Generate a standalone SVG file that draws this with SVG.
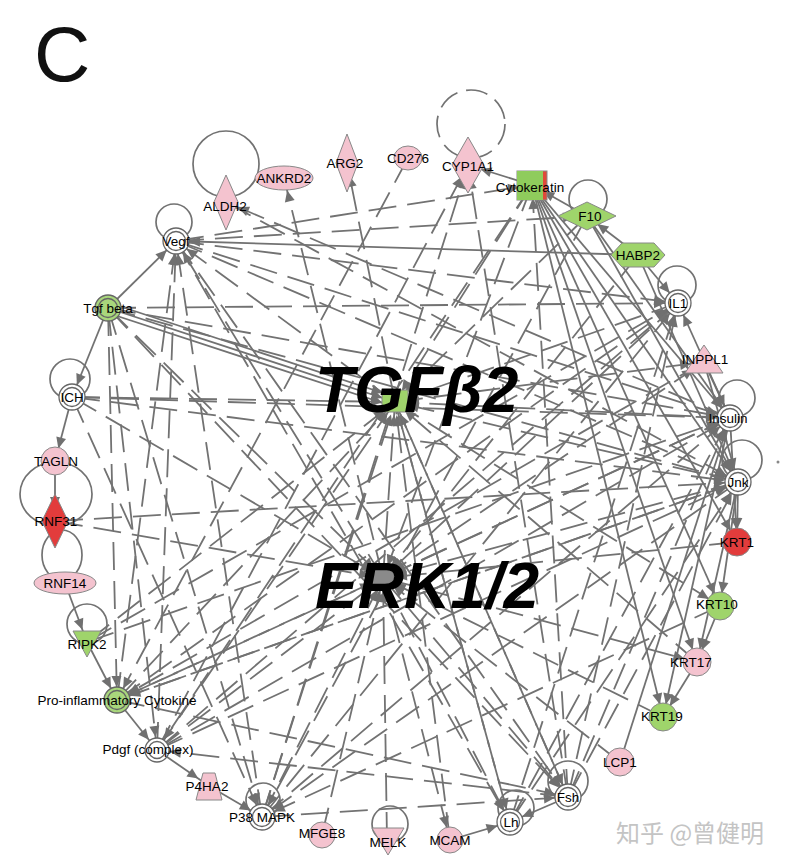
<svg xmlns="http://www.w3.org/2000/svg" width="788" height="868" viewBox="0 0 788 868">
<defs>
<marker id="ah" markerUnits="userSpaceOnUse" markerWidth="12" markerHeight="10" viewBox="0 0 12 10" refX="24" refY="5" orient="auto" overflow="visible">
<path d="M0,0 L11,5 L0,10 z" fill="#707070"/>
</marker>
<style>
.s{stroke:#727272;stroke-width:1.8;fill:none;marker-end:url(#ah)}
.d{stroke:#727272;stroke-width:1.8;fill:none;stroke-dasharray:28 11;marker-end:url(#ah)}
.lp{stroke:#727272;stroke-width:1.7;fill:none}
.lpd{stroke:#727272;stroke-width:1.7;fill:none;stroke-dasharray:22 9}
.o{stroke:#666;stroke-width:1.3;fill:#fff}
.og{stroke:#666;stroke-width:1.3;fill:#a9d77c}
.pk{fill:#f4c3cf;stroke:#888;stroke-width:1}
.gr{fill:#9fd46b;stroke:#888;stroke-width:1}
.rd{fill:#e23c3c;stroke:#888;stroke-width:1}
.t{font-family:"Liberation Sans",Arial,sans-serif;font-size:13.5px;fill:#000;text-anchor:middle;dominant-baseline:central}
.big{font-family:"Liberation Sans",Arial,sans-serif;font-size:64px;font-weight:bold;font-style:italic;fill:#000}
</style>
</defs>
<rect width="788" height="868" fill="#fff"/>
<text x="34" y="81" font-family="Liberation Sans,Arial,sans-serif" font-size="78" fill="#111">C</text>

<g id="self-loops">
<circle class="lp" cx="226" cy="164" r="33"/>
<circle class="lpd" cx="471" cy="124" r="34"/>
<circle class="lp" cx="588" cy="199" r="19"/>
<circle class="lp" cx="677" cy="285" r="19"/>
<circle class="lp" cx="174" cy="222" r="18"/>
<circle class="lp" cx="70" cy="379" r="20"/>
<circle class="lp" cx="737" cy="398" r="18"/>
<circle class="lp" cx="742" cy="460" r="20"/>
<ellipse class="lp" cx="56" cy="494" rx="36" ry="32"/>
<ellipse class="lp" cx="62" cy="555" rx="20" ry="25"/>
<circle class="lp" cx="87" cy="624" r="20"/>
<circle class="lp" cx="263" cy="800" r="17"/>
<circle class="lp" cx="568" cy="781" r="20"/>
<circle class="lp" cx="516" cy="808" r="18"/>
<circle class="lp" cx="390" cy="824" r="18"/>
</g>

<g id="connectors">
<line class="s" x1="638" y1="255" x2="176" y2="241"/>
<line class="s" x1="108" y1="308" x2="176" y2="241"/>
<line class="s" x1="532" y1="185" x2="737" y2="542"/>
<line class="s" x1="532" y1="185" x2="720" y2="606"/>
<line class="s" x1="532" y1="185" x2="697" y2="662"/>
<line class="s" x1="532" y1="185" x2="663" y2="717"/>
<line class="s" x1="532" y1="185" x2="738" y2="482"/>
<line class="s" x1="532" y1="185" x2="730" y2="418"/>
<line class="s" x1="587" y1="216" x2="532" y2="185"/>
<line class="s" x1="638" y1="255" x2="587" y2="216"/>
<line class="s" x1="638" y1="255" x2="678" y2="303"/>
<line class="s" x1="730" y1="418" x2="678" y2="303"/>
<line class="s" x1="704" y1="362" x2="730" y2="418"/>
<line class="s" x1="704" y1="362" x2="738" y2="482"/>
<line class="s" x1="738" y1="482" x2="737" y2="542"/>
<line class="s" x1="738" y1="482" x2="720" y2="606"/>
<line class="s" x1="720" y1="606" x2="697" y2="662"/>
<line class="s" x1="697" y1="662" x2="663" y2="717"/>
<line class="s" x1="568" y1="797" x2="510" y2="822"/>
<line class="s" x1="450" y1="840" x2="510" y2="822"/>
<line class="s" x1="87" y1="642" x2="117" y2="700"/>
<line class="s" x1="65" y1="583" x2="87" y2="642"/>
<line class="s" x1="55" y1="461" x2="55" y2="521"/>
<line class="s" x1="72" y1="397" x2="55" y2="461"/>
<line class="s" x1="108" y1="308" x2="72" y2="397"/>
<line class="s" x1="117" y1="700" x2="157" y2="750"/>
<line class="s" x1="157" y1="750" x2="209" y2="786"/>
<line class="s" x1="209" y1="786" x2="262" y2="817"/>
<line class="s" x1="108" y1="308" x2="395" y2="402"/>
<line class="s" x1="108" y1="313" x2="395" y2="407"/>
<line class="s" x1="110" y1="303" x2="395" y2="397"/>
<line class="s" x1="730" y1="418" x2="663" y2="717"/>
<line class="s" x1="620" y1="762" x2="730" y2="418"/>
<line class="s" x1="532" y1="185" x2="468" y2="165"/>
<line class="s" x1="738" y1="482" x2="697" y2="662"/>
<line class="s" x1="730" y1="418" x2="737" y2="542"/>
<line class="s" x1="587" y1="216" x2="730" y2="418"/>
<line class="s" x1="587" y1="216" x2="738" y2="482"/>
<line class="s" x1="638" y1="255" x2="738" y2="482"/>

<line class="d" x1="55" y1="521" x2="738" y2="482"/>
<line class="d" x1="176" y1="241" x2="587" y2="216"/>
<line class="d" x1="176" y1="241" x2="678" y2="303"/>
<line class="d" x1="176" y1="241" x2="730" y2="418"/>
<line class="d" x1="176" y1="241" x2="738" y2="482"/>
<line class="d" x1="157" y1="750" x2="176" y2="241"/>
<line class="d" x1="262" y1="817" x2="176" y2="241"/>
<line class="d" x1="117" y1="700" x2="176" y2="241"/>
<line class="d" x1="383" y1="578" x2="176" y2="241"/>
<line class="d" x1="395" y1="402" x2="176" y2="241"/>
<line class="d" x1="176" y1="241" x2="568" y2="797"/>
<line class="d" x1="176" y1="241" x2="510" y2="822"/>
<line class="d" x1="176" y1="241" x2="532" y2="185"/>
<line class="d" x1="108" y1="308" x2="730" y2="418"/>
<line class="d" x1="108" y1="308" x2="738" y2="482"/>
<line class="d" x1="108" y1="308" x2="678" y2="303"/>
<line class="d" x1="108" y1="308" x2="117" y2="700"/>
<line class="d" x1="108" y1="308" x2="262" y2="817"/>
<line class="d" x1="108" y1="308" x2="568" y2="797"/>
<line class="d" x1="108" y1="308" x2="383" y2="578"/>
<line class="d" x1="108" y1="308" x2="157" y2="750"/>
<line class="d" x1="72" y1="397" x2="383" y2="578"/>
<line class="d" x1="72" y1="397" x2="395" y2="402"/>
<line class="d" x1="72" y1="397" x2="738" y2="482"/>
<line class="d" x1="72" y1="397" x2="262" y2="817"/>
<line class="d" x1="72" y1="397" x2="730" y2="418"/>
<line class="d" x1="55" y1="521" x2="383" y2="578"/>
<line class="d" x1="87" y1="642" x2="395" y2="402"/>
<line class="d" x1="87" y1="642" x2="730" y2="418"/>
<line class="d" x1="87" y1="642" x2="678" y2="303"/>
<line class="d" x1="117" y1="700" x2="678" y2="303"/>
<line class="d" x1="117" y1="700" x2="395" y2="402"/>
<line class="d" x1="117" y1="700" x2="383" y2="578"/>
<line class="d" x1="117" y1="700" x2="738" y2="482"/>
<line class="d" x1="408" y1="158" x2="117" y2="700"/>
<line class="d" x1="117" y1="700" x2="568" y2="797"/>
<line class="d" x1="157" y1="750" x2="395" y2="402"/>
<line class="d" x1="157" y1="750" x2="383" y2="578"/>
<line class="d" x1="157" y1="750" x2="678" y2="303"/>
<line class="d" x1="157" y1="750" x2="730" y2="418"/>
<line class="d" x1="157" y1="750" x2="738" y2="482"/>
<line class="d" x1="157" y1="750" x2="468" y2="165"/>
<line class="d" x1="262" y1="817" x2="395" y2="402"/>
<line class="d" x1="262" y1="817" x2="383" y2="578"/>
<line class="d" x1="262" y1="817" x2="678" y2="303"/>
<line class="d" x1="262" y1="817" x2="730" y2="418"/>
<line class="d" x1="262" y1="817" x2="468" y2="165"/>
<line class="d" x1="262" y1="817" x2="568" y2="797"/>
<line class="d" x1="322" y1="835" x2="383" y2="578"/>
<line class="d" x1="387" y1="840" x2="383" y2="578"/>
<line class="d" x1="450" y1="840" x2="395" y2="402"/>
<line class="d" x1="510" y1="822" x2="395" y2="402"/>
<line class="d" x1="510" y1="822" x2="730" y2="418"/>
<line class="d" x1="568" y1="797" x2="395" y2="402"/>
<line class="d" x1="568" y1="797" x2="678" y2="303"/>
<line class="d" x1="568" y1="797" x2="532" y2="185"/>
<line class="d" x1="568" y1="797" x2="468" y2="165"/>
<line class="d" x1="663" y1="717" x2="383" y2="578"/>
<line class="d" x1="697" y1="662" x2="395" y2="402"/>
<line class="d" x1="738" y1="482" x2="395" y2="402"/>
<line class="d" x1="738" y1="482" x2="383" y2="578"/>
<line class="d" x1="738" y1="482" x2="262" y2="817"/>
<line class="d" x1="738" y1="482" x2="117" y2="700"/>
<line class="d" x1="730" y1="418" x2="395" y2="402"/>
<line class="d" x1="730" y1="418" x2="383" y2="578"/>
<line class="d" x1="730" y1="418" x2="226" y2="202"/>
<line class="d" x1="730" y1="418" x2="117" y2="700"/>
<line class="d" x1="678" y1="303" x2="383" y2="578"/>
<line class="d" x1="678" y1="303" x2="395" y2="402"/>
<line class="d" x1="638" y1="255" x2="383" y2="578"/>
<line class="d" x1="587" y1="216" x2="395" y2="402"/>
<line class="d" x1="587" y1="216" x2="262" y2="817"/>
<line class="d" x1="532" y1="185" x2="395" y2="402"/>
<line class="d" x1="532" y1="185" x2="383" y2="578"/>
<line class="d" x1="532" y1="185" x2="157" y2="750"/>
<line class="d" x1="226" y1="202" x2="738" y2="482"/>
<line class="d" x1="383" y1="578" x2="284" y2="178"/>
<line class="d" x1="395" y1="402" x2="347" y2="163"/>
<line class="d" x1="395" y1="402" x2="568" y2="797"/>
<line class="d" x1="395" y1="402" x2="510" y2="822"/>
<line class="d" x1="383" y1="578" x2="568" y2="797"/>
<line class="d" x1="383" y1="578" x2="510" y2="822"/>
<line class="d" x1="383" y1="578" x2="697" y2="662"/>
<line class="d" x1="395" y1="402" x2="720" y2="606"/>
<line class="d" x1="383" y1="578" x2="704" y2="362"/>
<line class="d" x1="395" y1="402" x2="704" y2="362"/>
<line class="d" x1="383" y1="578" x2="450" y2="840"/>
<line class="d" x1="737" y1="542" x2="383" y2="578"/>
<line class="d" x1="720" y1="606" x2="262" y2="817"/>
<line class="d" x1="383" y1="578" x2="395" y2="402"/>
<line class="d" x1="704" y1="362" x2="117" y2="700"/>
<line class="d" x1="568" y1="797" x2="157" y2="750"/>
<line class="d" x1="510" y1="822" x2="738" y2="482"/>
<line class="d" x1="568" y1="797" x2="738" y2="482"/>
<line class="d" x1="568" y1="797" x2="730" y2="418"/>
<line class="d" x1="510" y1="822" x2="678" y2="303"/>
<line class="d" x1="620" y1="762" x2="383" y2="578"/>
</g>

<g id="TGFB2"><rect x="382" y="390" width="26" height="22" class="gr"/></g>
<g id="ERK12"><rect x="372" y="569" width="22" height="18" rx="5" fill="#8a8a8a" stroke="#777"/></g>

<g id="Vegf"><circle cx="176" cy="241" r="13" class="o"/><circle cx="176" cy="241" r="9.5" class="o"/><text class="t" x="176" y="241">Vegf</text></g>
<g id="Tgfbeta"><circle cx="108" cy="308" r="13" class="og"/><circle cx="108" cy="308" r="9.5" class="og"/><text class="t" x="108" y="308">Tgf beta</text></g>
<g id="ICH"><circle cx="72" cy="397" r="13" class="o"/><circle cx="72" cy="397" r="9.5" class="o"/><text class="t" x="72" y="397">ICH</text></g>
<g id="TAGLN"><circle cx="55" cy="461" r="14" class="pk"/><text class="t" x="56" y="461">TAGLN</text></g>
<g id="RNF31"><polygon points="55,494 68,521 55,548 42,521" class="rd"/><text class="t" x="56" y="521">RNF31</text></g>
<g id="RNF14"><ellipse cx="65" cy="583" rx="31" ry="11" class="pk"/><text class="t" x="65" y="583">RNF14</text></g>
<g id="RIPK2"><polygon points="73,631 101,631 87,657" class="gr"/><text class="t" x="87" y="644">RIPK2</text></g>
<g id="ProInflammatoryCytokine"><circle cx="117" cy="700" r="13" class="og"/><circle cx="117" cy="700" r="9.5" class="og"/><text class="t" x="117" y="700">Pro-inflammatory Cytokine</text></g>
<g id="Pdgf"><circle cx="157" cy="750" r="12" class="o"/><circle cx="157" cy="750" r="8.5" class="o"/><text class="t" x="148" y="749">Pdgf (complex)</text></g>
<g id="P4HA2"><polygon points="203,773 215,773 222,800 196,800" class="pk"/><text class="t" x="207" y="786">P4HA2</text></g>
<g id="P38MAPK"><circle cx="262" cy="817" r="13" class="o"/><circle cx="262" cy="817" r="9.5" class="o"/><text class="t" x="262" y="817">P38 MAPK</text></g>
<g id="MFGE8"><circle cx="322" cy="835" r="13" class="pk"/><text class="t" x="322" y="833">MFGE8</text></g>
<g id="MELK"><polygon points="372,828 404,828 388,855" class="pk"/><text class="t" x="388" y="842">MELK</text></g>
<g id="MCAM"><circle cx="450" cy="840" r="13" class="pk"/><text class="t" x="450" y="840">MCAM</text></g>
<g id="Lh"><circle cx="510" cy="822" r="13" class="o"/><circle cx="510" cy="822" r="9.5" class="o"/><text class="t" x="511" y="822">Lh</text></g>
<g id="Fsh"><circle cx="568" cy="797" r="13" class="o"/><circle cx="568" cy="797" r="9.5" class="o"/><text class="t" x="568" y="797">Fsh</text></g>
<g id="LCP1"><circle cx="620" cy="762" r="14" class="pk"/><text class="t" x="620" y="762">LCP1</text></g>
<g id="KRT19"><circle cx="663" cy="717" r="14" class="gr"/><text class="t" x="662" y="716">KRT19</text></g>
<g id="KRT17"><circle cx="697" cy="662" r="14" class="pk"/><text class="t" x="691" y="662">KRT17</text></g>
<g id="KRT10"><circle cx="720" cy="606" r="14" class="gr"/><text class="t" x="717" y="604">KRT10</text></g>
<g id="KRT1"><circle cx="737" cy="542" r="14" class="rd"/><text class="t" x="737" y="542">KRT1</text></g>
<g id="Jnk"><circle cx="738" cy="482" r="13" class="o"/><circle cx="738" cy="482" r="9.5" class="o"/><text class="t" x="738" y="482">Jnk</text></g>
<g id="Insulin"><circle cx="730" cy="418" r="13" class="o"/><circle cx="730" cy="418" r="9.5" class="o"/><text class="t" x="728" y="418">Insulin</text></g>
<g id="INPPL1"><polygon points="704,345 723,373 685,373" class="pk"/><text class="t" x="705" y="359">INPPL1</text></g>
<g id="IL1"><circle cx="678" cy="303" r="13" class="o"/><circle cx="678" cy="303" r="9.5" class="o"/><text class="t" x="678" y="303">IL1</text></g>
<g id="HABP2"><polygon points="611,255 622,243 654,243 665,255 654,267 622,267" class="gr"/><text class="t" x="638" y="255">HABP2</text></g>
<g id="F10"><polygon points="558,216 587,202 616,216 587,230" class="gr"/><text class="t" x="590" y="216">F10</text></g>
<g id="Cytokeratin"><rect x="517" y="171" width="30" height="29" fill="#e04a3a" stroke="#888"/><rect x="517" y="171" width="26" height="29" fill="#8fcc5c" stroke="none"/><text class="t" x="530" y="187">Cytokeratin</text></g>
<g id="CYP1A1"><polygon points="468,137 484,165 468,193 452,165" class="pk"/><text class="t" x="468" y="166">CYP1A1</text></g>
<g id="CD276"><ellipse cx="408" cy="158" rx="14" ry="12" class="pk"/><text class="t" x="408" y="158">CD276</text></g>
<g id="ARG2"><polygon points="347,134 358,163 347,192 336,163" class="pk"/><text class="t" x="345" y="163">ARG2</text></g>
<g id="ANKRD2"><ellipse cx="284" cy="178" rx="29" ry="12" class="pk"/><text class="t" x="284" y="178">ANKRD2</text></g>
<g id="ALDH2"><polygon points="226,175 238,202 226,230 214,202" class="pk"/><text class="t" x="225" y="206">ALDH2</text></g>

<text class="big" x="315" y="412">TGFβ2</text>
<text class="big" x="315" y="608">ERK1/2</text>

<circle cx="778" cy="462" r="1.5" fill="#888"/>
<text x="616" y="842" font-family="Noto Sans CJK SC,sans-serif" font-size="24" fill="#c4c4c4">知乎 @曾健明</text>
</svg>
